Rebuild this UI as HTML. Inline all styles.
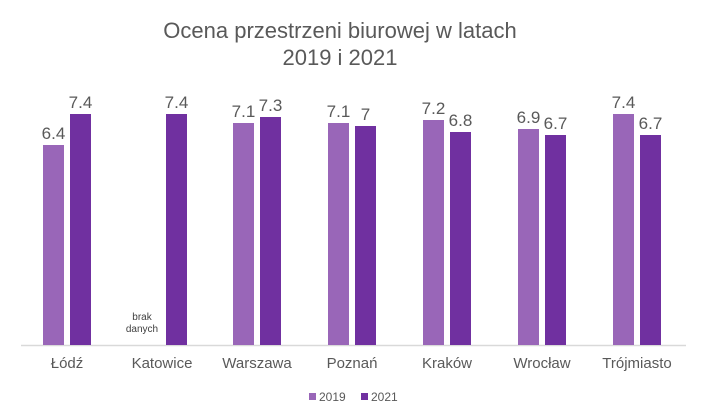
<!DOCTYPE html>
<html><head><meta charset="utf-8"><style>body{margin:0;background:#fff}</style></head><body>
<svg width="703" height="406" xmlns="http://www.w3.org/2000/svg" font-family="Liberation Sans, Arial, sans-serif">
<rect width="703" height="406" fill="#fff"/>
<text x="340" y="38" font-size="22" fill="#595959" text-anchor="middle">Ocena przestrzeni biurowej w latach</text>
<text x="340" y="65" font-size="22" fill="#595959" text-anchor="middle">2019 i 2021</text>
<line x1="21" y1="345.5" x2="686" y2="345.5" stroke="#d9d9d9" stroke-width="1.5"/>
<g fill="#9966b8">
<rect x="43" y="145" width="21" height="200"/>
<rect x="233" y="123" width="21" height="222"/>
<rect x="328" y="123" width="21" height="222"/>
<rect x="423" y="120" width="21" height="225"/>
<rect x="518" y="129" width="21" height="216"/>
<rect x="613" y="114" width="21" height="231"/>
</g>
<g fill="#7030a0">
<rect x="70" y="114" width="21" height="231"/>
<rect x="166" y="114" width="21" height="231"/>
<rect x="260" y="117" width="21" height="228"/>
<rect x="355" y="126" width="21" height="219"/>
<rect x="450" y="132" width="21" height="213"/>
<rect x="545" y="135" width="21" height="210"/>
<rect x="640" y="135" width="21" height="210"/>
</g>
<g font-size="17" fill="#595959" text-anchor="middle">
<text x="53.5" y="139">6.4</text><text x="80.5" y="108">7.4</text>
<text x="176.5" y="108">7.4</text>
<text x="243.5" y="117">7.1</text><text x="270.5" y="111">7.3</text>
<text x="338.5" y="117">7.1</text><text x="365.5" y="120">7</text>
<text x="433.5" y="114">7.2</text><text x="460.5" y="126">6.8</text>
<text x="528.5" y="123">6.9</text><text x="555.5" y="129">6.7</text>
<text x="623.5" y="108">7.4</text><text x="650.5" y="129">6.7</text>
</g>
<g font-size="10" fill="#404040" text-anchor="middle">
<text x="142" y="320">brak</text><text x="142" y="332">danych</text>
</g>
<g font-size="15" fill="#595959" text-anchor="middle">
<text x="67" y="368">Łódź</text>
<text x="162" y="368">Katowice</text>
<text x="257" y="368">Warszawa</text>
<text x="352" y="368">Poznań</text>
<text x="447" y="368">Kraków</text>
<text x="542" y="368">Wrocław</text>
<text x="637" y="368">Trójmiasto</text>
</g>
<rect x="309" y="393" width="7" height="7" fill="#9966b8"/>
<text x="319" y="401" font-size="12" fill="#595959">2019</text>
<rect x="361" y="393" width="7" height="7" fill="#7030a0"/>
<text x="371" y="401" font-size="12" fill="#595959">2021</text>
</svg>
</body></html>
